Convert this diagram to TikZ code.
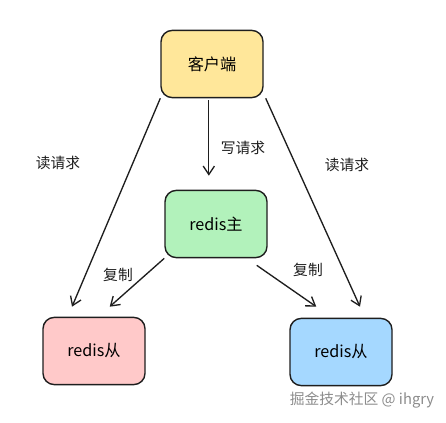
\documentclass[tikz,border=0pt]{standalone}
\usepackage{fontspec}
\setmainfont{Noto Sans CJK SC}
\usetikzlibrary{arrows.meta,positioning,calc}

\definecolor{boxyellow}{HTML}{FFE79A}
\definecolor{boxgreen}{HTML}{B2F2BB}
\definecolor{boxpink}{HTML}{FFC9C9}
\definecolor{boxblue}{HTML}{A5D8FF}
\definecolor{inkline}{HTML}{1E1E1E}

\begin{document}
\begin{tikzpicture}[
    srv/.style={draw=inkline, line width=1pt, rounded corners=8pt, minimum width=2.55cm, minimum height=1.68cm, align=center, font=\fontsize{11.5}{13}\selectfont},
    arr/.style={-{Straight Barb[length=6pt,width=8pt]}, draw=inkline, line width=0.95pt},
    lbl/.style={font=\fontsize{10.5}{12}\selectfont, text=inkline, inner sep=1pt}
]
\useasboundingbox (0,0) rectangle (11.15,10.55);

\node[srv, fill=boxyellow] (C) at (5.3,8.95) {客户端};
\node[srv, fill=boxgreen] (M) at (5.4,4.95) {redis主};
\node[srv, fill=boxpink] (L) at (2.35,1.775) {redis从};
\node[srv, fill=boxblue] (R) at (8.525,1.75) {redis从};

\coordinate (wtop) at ($(C.south)+(-0.08,-0.05)$);
\coordinate (wbot) at (wtop |- M.north);

\draw[arr] (C.south west) -- ($(L.north)+(-0.55,0.25)$);
\draw[arr, shorten >=0.35cm] (wtop) -- (wbot);
\draw[arr] ($(C.south east)+(0.05,0)$) -- ($(R.north)+(0.475,0.275)$);
\draw[arr] (M.south west) -- ($(L.north east)+(-0.9,0.25)$);
\draw[arr] ($(M.south east)+(-0.275,-0.175)$) -- ($(R.north west)+(0.675,0.275)$);

\node[lbl] (rl) at (1.45,6.475) {读请求};
\node[lbl] (wr) at (6.075,6.85) {写请求};
\node[lbl] (rr) at (8.675,6.425) {读请求};
\node[lbl] (cl) at (2.95,3.675) {复制};
\node[lbl] (cr) at (7.7,3.8) {复制};

% watermark
\node[font=\fontsize{10.5}{12}\selectfont, text=black!45, inner sep=0pt] (wm) at (9.05,0.55) {掘金技术社区 @ ihgry};
\end{tikzpicture}
\end{document}
